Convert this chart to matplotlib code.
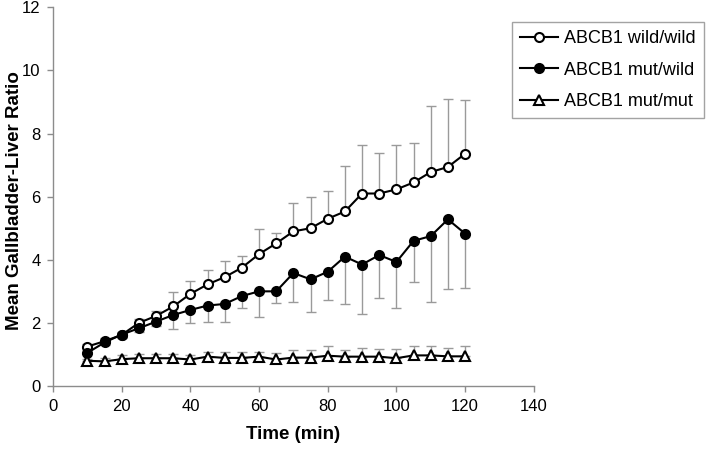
import matplotlib
matplotlib.use("Agg")
import matplotlib.pyplot as plt

plt.rcParams['font.family'] = ['Liberation Sans', 'DejaVu Sans']

time = [10, 15, 20, 25, 30, 35, 40, 45, 50, 55, 60, 65, 70, 75, 80, 85, 90, 95, 100, 105, 110, 115, 120]

wild_wild = [1.25, 1.42, 1.62, 2.00, 2.22, 2.52, 2.92, 3.22, 3.45, 3.75, 4.18, 4.52,
             4.90, 5.00, 5.30, 5.53, 6.10, 6.10, 6.23, 6.45, 6.78, 6.94, 7.36]
wild_wild_err = [0.08, 0.10, 0.10, 0.12, 0.15, 0.45, 0.40, 0.47, 0.50, 0.36, 0.78, 0.33,
                 0.90, 1.00, 0.87, 1.43, 1.53, 1.27, 1.40, 1.25, 2.08, 2.14, 1.70]

mut_wild = [1.05, 1.38, 1.63, 1.83, 2.04, 2.25, 2.41, 2.55, 2.60, 2.85, 3.00, 3.00,
            3.58, 3.38, 3.62, 4.10, 3.85, 4.15, 3.93, 4.60, 4.75, 5.28, 4.83]
mut_wild_err = [0.05, 0.08, 0.10, 0.12, 0.15, 0.45, 0.40, 0.51, 0.56, 0.38, 0.80, 0.36,
                0.93, 1.04, 0.89, 1.50, 1.56, 1.35, 1.46, 1.29, 2.10, 2.21, 1.73]

mut_mut = [0.80, 0.78, 0.85, 0.88, 0.88, 0.88, 0.84, 0.93, 0.89, 0.89, 0.93, 0.84,
           0.90, 0.90, 0.96, 0.93, 0.93, 0.93, 0.88, 0.97, 0.97, 0.94, 0.94]
mut_mut_err = [0.05, 0.10, 0.12, 0.12, 0.12, 0.12, 0.15, 0.15, 0.18, 0.18, 0.16, 0.20,
               0.24, 0.24, 0.30, 0.21, 0.29, 0.24, 0.29, 0.29, 0.29, 0.26, 0.32]

labels = ['ABCB1 wild/wild', 'ABCB1 mut/wild', 'ABCB1 mut/mut']

fig = plt.figure(figsize=(7.09, 4.49), dpi=100)
ax = fig.add_axes([0.0748, 0.1403, 0.678, 0.8434])

ebar = dict(fmt='none', ecolor='#9a9a9a', elinewidth=1.0, capsize=3.5, capthick=1.0, zorder=1)
zero = [0] * len(time)
ax.errorbar(time, wild_wild, yerr=[zero, wild_wild_err], **ebar)
ax.errorbar(time, mut_wild, yerr=[mut_wild_err, zero], **ebar)
ax.errorbar(time, mut_mut, yerr=[zero, mut_mut_err], **ebar)

line = dict(color='black', lw=1.5, markeredgecolor='black', markeredgewidth=1.5, zorder=3)
ax.plot(time, wild_wild, marker='o', markersize=9.5, markerfacecolor='white', label=labels[0], **line)
ax.plot(time, mut_wild, marker='o', markersize=9.5, markerfacecolor='black', label=labels[1], **line)
ax.plot(time, mut_mut, marker='^', markersize=10, markerfacecolor='white', label=labels[2], **line)

ax.set_xlim(0, 140)
ax.set_ylim(0, 12)
ax.set_xticks(range(0, 141, 20))
ax.set_yticks(range(0, 13, 2))

for s in ['top', 'right']:
    ax.spines[s].set_visible(False)
for s in ['left', 'bottom']:
    ax.spines[s].set_color('#8c8c8c')
    ax.spines[s].set_linewidth(1.0)
ax.tick_params(direction='out', length=4, width=1.0, color='#8c8c8c',
               labelsize=12, labelcolor='black', pad=5)

ax.set_xlabel('Time (min)', fontsize=13.5, fontweight='bold', labelpad=9)
ax.set_ylabel('Mean Gallbladder-Liver Ratio', fontsize=13.5, fontweight='bold')
ax.yaxis.set_label_coords(-0.062, 0.49)

handles, _ = ax.get_legend_handles_labels()
for h in handles:
    h.set_markersize(6.5)
leg = fig.legend(handles, labels, loc='upper left', bbox_to_anchor=(512 / 709, 1 - 22 / 449),
                 fontsize=13, frameon=True, fancybox=False, handlelength=2.1,
                 handletextpad=0.35, labelspacing=0.8, borderpad=0.45, borderaxespad=0)
leg.get_frame().set_edgecolor('#8c8c8c')
leg.get_frame().set_linewidth(1.0)

fig.savefig('out.png', dpi=100)
